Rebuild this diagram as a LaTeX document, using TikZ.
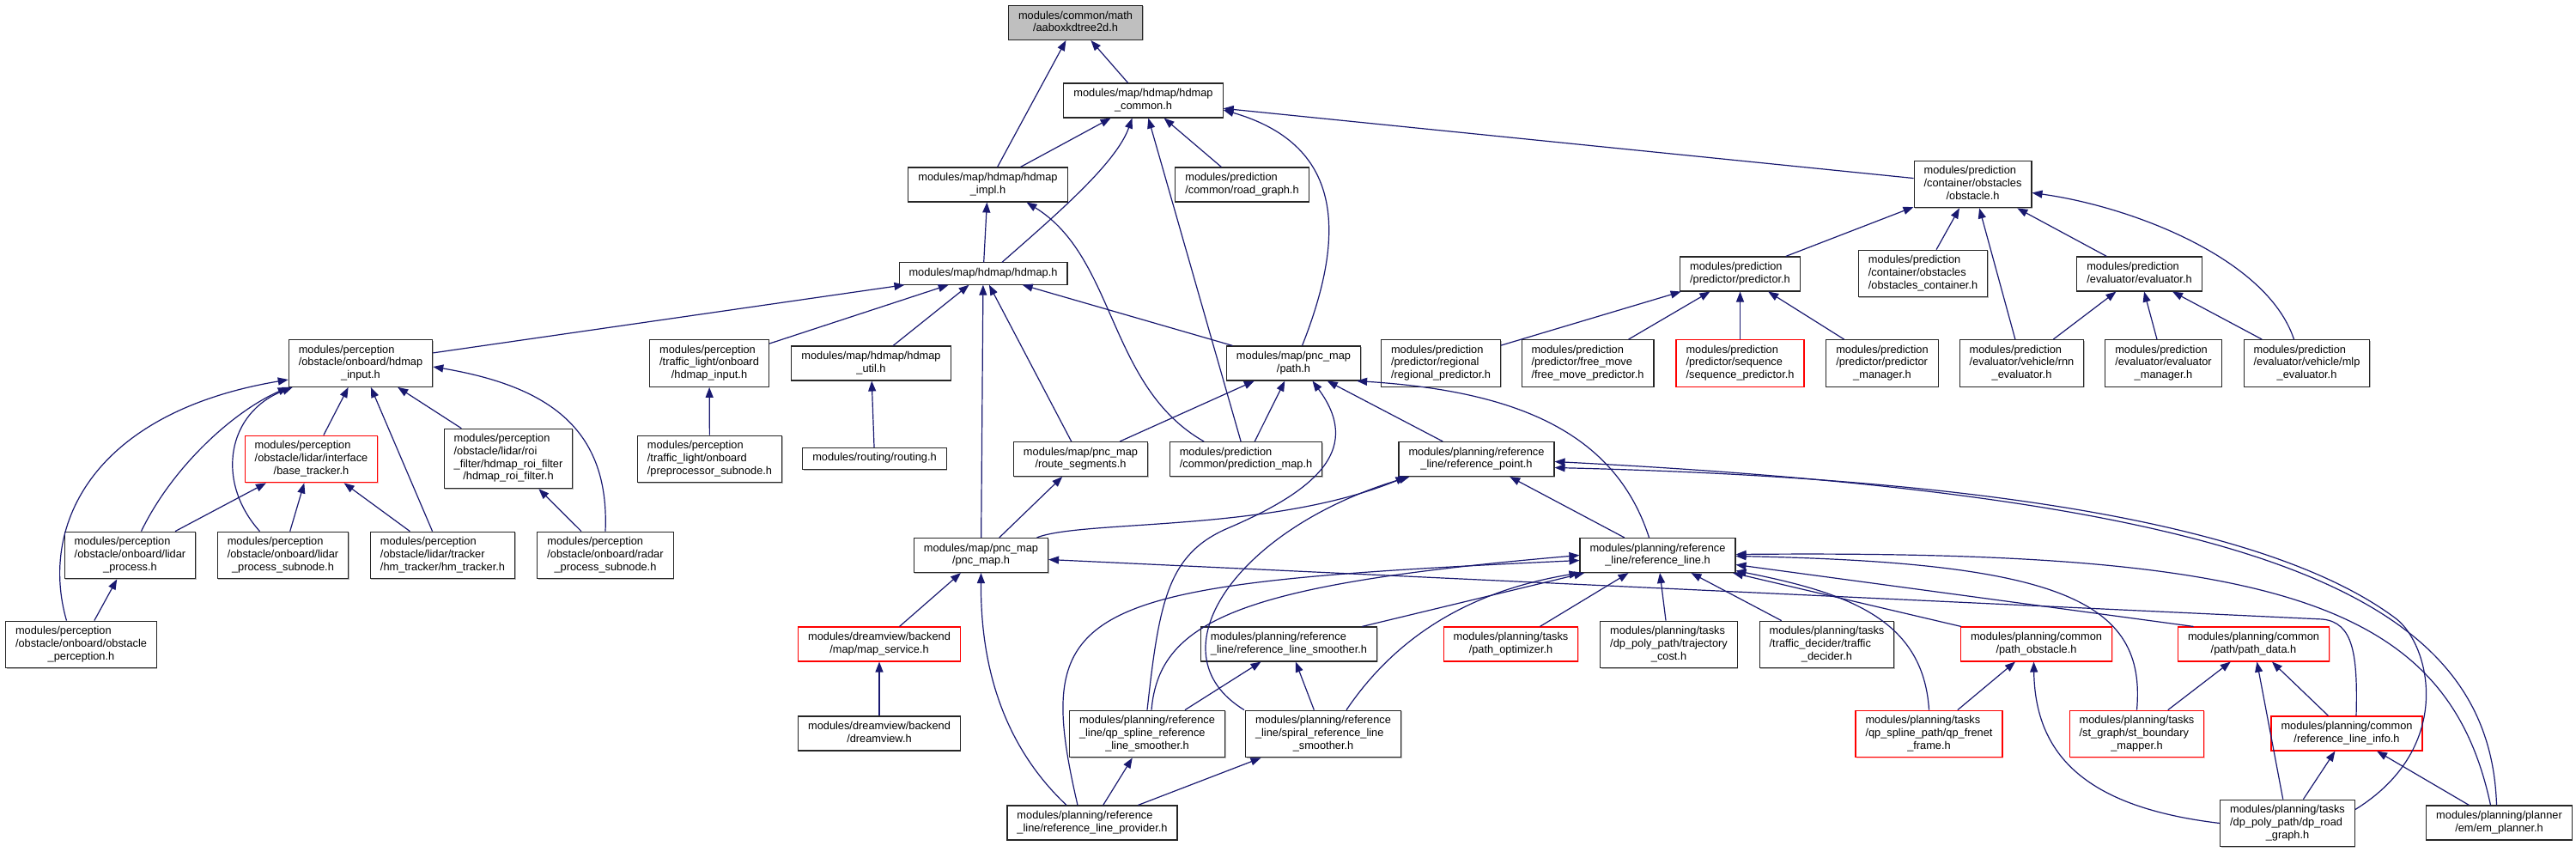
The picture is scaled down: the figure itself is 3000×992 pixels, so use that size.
\documentclass[tikz,border=0pt]{standalone}
\usepackage{fontspec}
\setmainfont{Liberation Sans}
\usetikzlibrary{arrows.meta,shadows}
\definecolor{edgeblue}{HTML}{191970}
\definecolor{curgray}{HTML}{BFBFBF}
\newcommand\lc[1]{\multicolumn{1}{@{}c@{}}{#1}}
\newcommand\fl[1]{\begin{tabular}{@{}l@{}}#1\end{tabular}}

\begin{document}
\begin{tikzpicture}[x=1pt, y=-1pt, >={Triangle[length=12pt,width=9pt]},
  font=\fontsize{12.8}{14.7}\selectfont,
  box/.style={draw=black!85, line width=1.1pt, fill=white, inner xsep=11.5pt, inner ysep=5.3pt},
  file/.style={box, drop shadow={shadow xshift=1pt, shadow yshift=-1pt, fill=black!28, opacity=1}},
  cur/.style={file, fill=curgray},
  trunc/.style={box, draw=red, drop shadow={shadow xshift=1pt, shadow yshift=-1pt, fill=red!25, opacity=1}},
  inc/.style={->, draw=edgeblue, line width=1.2pt}]
\path[fill=white, use as bounding box] (0,0) rectangle (3000,992);
% top: the file itself and the hdmap headers
\node[cur]  (aabox)    at (1252.5,26.5) {\fl{modules/common/math\\\lc{/aaboxkdtree2d.h}}};
\node[file] (hdcommon) at (1331.5,117)  {\fl{modules/map/hdmap/hdmap\\\lc{\_common.h}}};
\node[file] (hdimpl)   at (1150.5,215)  {\fl{modules/map/hdmap/hdmap\\\lc{\_impl.h}}};
\node[file] (roadgraph) at (1446.5,215) {\fl{modules/prediction\\\lc{/common/road\_graph.h}}};
\node[file] (obstacle) at (2297.5,214.5) {\fl{modules/prediction\\/container/obstacles\\\lc{/obstacle.h}}};
\node[file] (hdmap)    at (1145,318.5)  {\fl{modules/map/hdmap/hdmap.h}};
\node[file] (predictor) at (2026.5,319) {\fl{modules/prediction\\\lc{/predictor/predictor.h}}};
\node[file] (obscont)  at (2239.5,318.5) {\fl{modules/prediction\\/container/obstacles\\\lc{/obstacles\_container.h}}};
\node[file] (evaluator) at (2491.5,319) {\fl{modules/prediction\\\lc{/evaluator/evaluator.h}}};
% middle row
\node[file]  (hdinput)  at (420,423)    {\fl{modules/perception\\/obstacle/onboard/hdmap\\\lc{\_input.h}}};
\node[file]  (tlinput)  at (826,423)    {\fl{modules/perception\\/traffic\_light/onboard\\\lc{/hdmap\_input.h}}};
\node[file]  (hdutil)   at (1014.5,423) {\fl{modules/map/hdmap/hdmap\\\lc{\_util.h}}};
\node[file]  (path)     at (1506.5,423) {\fl{modules/map/pnc\_map\\\lc{/path.h}}};
\node[file]  (regional) at (1678,423)   {\fl{modules/prediction\\/predictor/regional\\\lc{/regional\_predictor.h}}};
\node[file]  (freemove) at (1849,423)   {\fl{modules/prediction\\/predictor/free\_move\\\lc{/free\_move\_predictor.h}}};
\node[trunc] (seqpred)  at (2026.5,423) {\fl{modules/prediction\\/predictor/sequence\\\lc{/sequence\_predictor.h}}};
\node[file]  (predmgr)  at (2192,423)   {\fl{modules/prediction\\/predictor/predictor\\\lc{\_manager.h}}};
\node[file]  (rnneval)  at (2354.5,423) {\fl{modules/prediction\\/evaluator/vehicle/rnn\\\lc{\_evaluator.h}}};
\node[file]  (evalmgr)  at (2519.5,423) {\fl{modules/prediction\\/evaluator/evaluator\\\lc{\_manager.h}}};
\node[file]  (mlpeval)  at (2686.5,423) {\fl{modules/prediction\\/evaluator/vehicle/mlp\\\lc{\_evaluator.h}}};
\node[trunc] (basetrk)  at (362.5,534.5) {\fl{modules/perception\\/obstacle/lidar/interface\\\lc{/base\_tracker.h}}};
\node[file]  (roifilter) at (592,534)   {\fl{modules/perception\\/obstacle/lidar/roi\\\_filter/hdmap\_roi\_filter\\\lc{/hdmap\_roi\_filter.h}}};
\node[file]  (preproc)  at (826.5,534.5) {\fl{modules/perception\\/traffic\_light/onboard\\\lc{/preprocessor\_subnode.h}}};
\node[file]  (routing)  at (1018.5,534) {\fl{modules/routing/routing.h}};
\node[file]  (routeseg) at (1258.5,534.5) {\fl{modules/map/pnc\_map\\\lc{/route\_segments.h}}};
\node[file]  (predmap)  at (1451,534.5) {\fl{modules/prediction\\\lc{/common/prediction\_map.h}}};
\node[file]  (refpoint) at (1719.5,534.5) {\fl{modules/planning/reference\\\lc{\_line/reference\_point.h}}};
% lower rows
\node[file]  (lidarproc) at (151.5,646.5) {\fl{modules/perception\\/obstacle/onboard/lidar\\\lc{\_process.h}}};
\node[file]  (lidarsub) at (329.5,646.5) {\fl{modules/perception\\/obstacle/onboard/lidar\\\lc{\_process\_subnode.h}}};
\node[file]  (hmtrk)    at (515.5,646.5) {\fl{modules/perception\\/obstacle/lidar/tracker\\\lc{/hm\_tracker/hm\_tracker.h}}};
\node[file]  (radarsub) at (705,646.5)  {\fl{modules/perception\\/obstacle/onboard/radar\\\lc{\_process\_subnode.h}}};
\node[file]  (pncmap)   at (1142.5,646.5) {\fl{modules/map/pnc\_map\\\lc{/pnc\_map.h}}};
\node[file]  (refline)  at (1930.5,646.5) {\fl{modules/planning/reference\\\lc{\_line/reference\_line.h}}};
\node[file]  (obsperc)  at (94.5,750.5) {\fl{modules/perception\\/obstacle/onboard/obstacle\\\lc{\_perception.h}}};
\node[trunc] (mapsvc)   at (1024,750)   {\fl{modules/dreamview/backend\\\lc{/map/map\_service.h}}};
\node[file]  (smoother) at (1501,750)   {\fl{modules/planning/reference\\\lc{\_line/reference\_line\_smoother.h}}};
\node[trunc] (pathopt)  at (1759.5,750) {\fl{modules/planning/tasks\\\lc{/path\_optimizer.h}}};
\node[file]  (trajcost) at (1943.5,750.5) {\fl{modules/planning/tasks\\/dp\_poly\_path/trajectory\\\lc{\_cost.h}}};
\node[file]  (traffic)  at (2127.5,750.5) {\fl{modules/planning/tasks\\/traffic\_decider/traffic\\\lc{\_decider.h}}};
\node[trunc] (pathobs)  at (2371.5,750) {\fl{modules/planning/common\\\lc{/path\_obstacle.h}}};
\node[trunc] (pathdata) at (2624.5,750) {\fl{modules/planning/common\\\lc{/path/path\_data.h}}};
\node[file]  (dreamview) at (1024,854)  {\fl{modules/dreamview/backend\\\lc{/dreamview.h}}};
\node[file]  (qpsmooth) at (1336,854.5) {\fl{modules/planning/reference\\\_line/qp\_spline\_reference\\\lc{\_line\_smoother.h}}};
\node[file]  (spiral)   at (1541,854.5) {\fl{modules/planning/reference\\\_line/spiral\_reference\_line\\\lc{\_smoother.h}}};
\node[trunc] (qpfrenet) at (2246.5,854.5) {\fl{modules/planning/tasks\\/qp\_spline\_path/qp\_frenet\\\lc{\_frame.h}}};
\node[trunc] (stmapper) at (2488.5,854.5) {\fl{modules/planning/tasks\\/st\_graph/st\_boundary\\\lc{\_mapper.h}}};
\node[trunc] (rlinfo)   at (2733,854)   {\fl{modules/planning/common\\\lc{/reference\_line\_info.h}}};
\node[file]  (provider) at (1272,958)   {\fl{modules/planning/reference\\\lc{\_line/reference\_line\_provider.h}}};
\node[file]  (dproad)   at (2664,958.5) {\fl{modules/planning/tasks\\/dp\_poly\_path/dp\_road\\\lc{\_graph.h}}};
\node[file]  (emplanner) at (2910.5,958) {\fl{modules/planning/planner\\\lc{/em/em\_planner.h}}};
% straight include edges (child -> included file)
\foreach \p/\ch in {aabox/hdcommon, aabox/hdimpl, hdcommon/hdimpl, hdcommon/predmap, hdcommon/roadgraph,
    hdcommon/obstacle, hdimpl/hdmap, hdmap/hdinput, hdmap/tlinput, hdmap/hdutil, hdmap/pncmap,
    hdmap/routeseg, hdmap/path, obstacle/predictor, obstacle/obscont, obstacle/rnneval, obstacle/evaluator,
    predictor/regional, predictor/freemove, predictor/seqpred, predictor/predmgr, evaluator/rnneval,
    evaluator/evalmgr, evaluator/mlpeval, hdinput/basetrk, hdinput/hmtrk, hdinput/roifilter,
    tlinput/preproc, hdutil/routing, basetrk/lidarproc, basetrk/lidarsub, basetrk/hmtrk,
    roifilter/radarsub, lidarproc/obsperc, path/routeseg, path/predmap, path/refpoint, refpoint/refline,
    routeseg/pncmap, pncmap/mapsvc, mapsvc/dreamview, refline/smoother, refline/pathopt, refline/trajcost,
    refline/traffic, refline/pathobs, smoother/qpsmooth, smoother/spiral, qpsmooth/provider,
    spiral/provider, pathobs/qpfrenet, pathdata/stmapper, pathdata/rlinfo, pathdata/dproad,
    rlinfo/dproad, rlinfo/emplanner}
  \draw[inc] (\ch) -- (\p);
% curved edges
\draw[inc] ([xshift=22pt]hdmap.north) .. controls (1230,250) and (1300,190) .. ([xshift=-13pt]hdcommon.south);
\draw[inc] ([xshift=10pt]path.north) .. controls (1565,280) and (1570,170) .. ([yshift=-11pt]hdcommon.east);
\draw[inc] ([xshift=-49pt]predmap.north) .. controls (1290,450) and (1300,300) .. ([xshift=45pt]hdimpl.south);
\draw[inc] ([xshift=-15pt]mlpeval.north) .. controls (2640,300) and (2480,240) .. ([yshift=-10pt]obstacle.east);
\draw[inc] (radarsub.north) .. controls (710,500) and (640,450) .. ([yshift=-4pt]hdinput.east);
\draw[inc] ([xshift=-17pt]obsperc.north) .. controls (45,610) and (110,480) .. ([yshift=-19pt]hdinput.west);
\draw[inc] ([xshift=13pt]lidarproc.north) .. controls (200,545) and (270,480) .. (hdinput.south west);
\draw[inc] ([xshift=-27pt]lidarsub.north) .. controls (250,560) and (265,480) .. ([xshift=5pt]hdinput.south west);
\draw[inc] ([xshift=-10pt]refline.north) .. controls (1880,500) and (1760,455) .. ([xshift=-5pt]path.south east);
\draw[inc] (qpsmooth.north) .. controls (1350,700) and (1360,645) .. (1430,615)
  .. controls (1540,568) and (1585,520) .. ([xshift=22pt]path.south);
\draw[inc] ([xshift=65pt]pncmap.north) .. controls (1260,605) and (1480,620) .. ([xshift=-82pt]refpoint.south);
\draw[inc] ([xshift=-92pt]spiral.north) .. controls (1340,760) and (1440,615) .. ([xshift=-78pt]refpoint.south);
\draw[inc] ([xshift=-3pt]emplanner.north) .. controls (2900,700) and (2650,580) .. ([yshift=-3pt]refpoint.east);
\draw[inc] ([yshift=16pt]dproad.east) .. controls (2860,870) and (2830,750) .. (2790,720)
  .. controls (2630,600) and (2250,555) .. ([yshift=-10pt]refpoint.east);
\draw[inc] ([xshift=5pt]qpsmooth.north) .. controls (1350,720) and (1450,680) .. (refline.west);
\draw[inc] ([xshift=-17pt]provider.north) .. controls (1200,700) and (1250,680) .. ([yshift=-6pt]refline.west);
\draw[inc] ([xshift=27pt]spiral.north) .. controls (1620,750) and (1700,690) .. (refline.south west);
\draw[inc] (qpfrenet.north) .. controls (2240,720) and (2150,690) .. ([yshift=-18pt]refline.east);
\draw[inc] (stmapper.north) .. controls (2500,700) and (2400,655) .. ([yshift=-1pt]refline.east);
\draw[inc] ([xshift=-70pt]pathdata.north) -- ([yshift=-11pt]refline.east);
\draw[inc] ([xshift=-10pt]emplanner.north) .. controls (2850,700) and (2650,640) .. ([yshift=1pt]refline.east);
\draw[inc] ([xshift=11pt]rlinfo.north) .. controls (2746,760) and (2740,725) .. (2705,721) -- ([yshift=-5pt]pncmap.east);
\draw[inc] ([xshift=-30pt]provider.north) .. controls (1160,860) and (1142,760) .. (pncmap.south);
\draw[inc] (dproad.west) .. controls (2430,940) and (2370,880) .. ([xshift=-3pt]pathobs.south);
\end{tikzpicture}
\end{document}
